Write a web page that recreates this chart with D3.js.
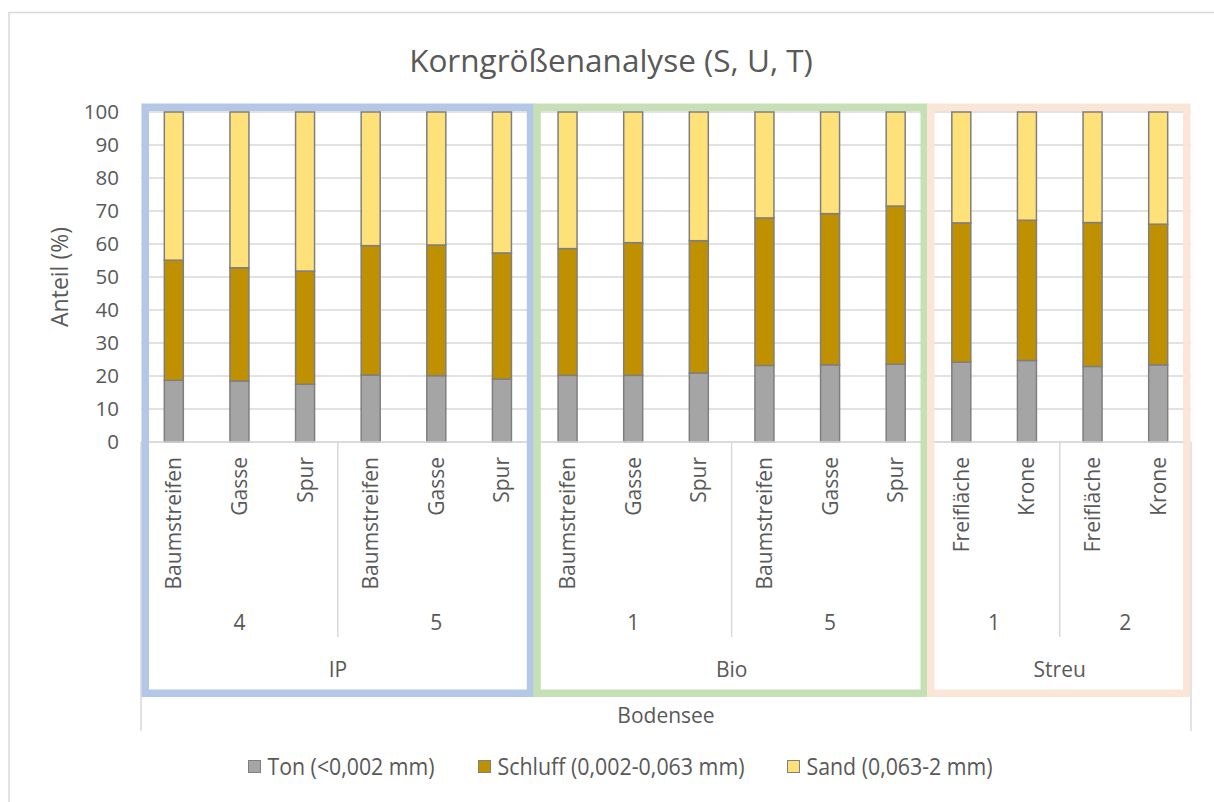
<!DOCTYPE html>
<html>
<head>
<meta charset="utf-8">
<script src="https://cdn.jsdelivr.net/npm/d3@7"></script>
<style>
  body { margin: 0; background: #fff; }
  text { font-family: "Open Sans", sans-serif; fill: #595959; }
</style>
</head>
<body>
<div id="chart"></div>
<script>
// data
var sites = ["Baumstreifen", "Gasse", "Spur", "Baumstreifen", "Gasse", "Spur",
             "Baumstreifen", "Gasse", "Spur", "Baumstreifen", "Gasse", "Spur",
             "Freifläche", "Krone", "Freifläche", "Krone"];
var plots = ["4", "4", "4", "5", "5", "5", "1", "1", "1", "5", "5", "5", "1", "1", "2", "2"];
var systems = ["IP", "IP", "IP", "IP", "IP", "IP", "Bio", "Bio", "Bio", "Bio", "Bio", "Bio",
               "Streu", "Streu", "Streu", "Streu"];
var region = "Bodensee";

var ton =     [18.7, 18.5, 17.5, 20.3, 20.1, 19.1, 20.2, 20.2, 20.9, 23.2, 23.4, 23.6, 24.2, 24.7, 22.9, 23.4];
var schluff = [36.4, 34.3, 34.3, 39.2, 39.6, 38.2, 38.4, 40.2, 40.1, 44.7, 45.8, 47.9, 42.2, 42.5, 43.6, 42.6];
var sand =    [44.9, 47.2, 48.2, 40.5, 40.3, 42.7, 41.4, 39.6, 39.0, 32.1, 30.8, 28.5, 33.6, 32.8, 33.5, 34.0];

var seriesNames = ["Ton (<0,002 mm)", "Schluff (0,002-0,063 mm)", "Sand (0,063-2 mm)"];
var seriesColors = ["#a5a5a5", "#bf9000", "#ffe17a"];
var yTicks = [0, 10, 20, 30, 40, 50, 60, 70, 80, 90, 100];
var boxColors = {"IP": "#b4c7e7", "Bio": "#c5e0b4", "Streu": "#fbe5d6"};

var width = 1214, height = 802;
var plot = {left: 141, right: 1191, top: 112, bottom: 442};
var fs = "21px";

var svg = d3.select("#chart").append("svg")
    .attr("width", width)
    .attr("height", height);

// chart frame
svg.append("rect")
    .attr("x", 9).attr("y", 12.5)
    .attr("width", width + 10).attr("height", height + 10)
    .attr("fill", "#fff")
    .attr("stroke", "#d9d9d9")
    .attr("stroke-width", 1.5);

var rows = sites.map(function(s, i) {
  return {idx: i, site: s, plot: plots[i], system: systems[i],
          ton: ton[i], schluff: schluff[i], sand: sand[i]};
});

var x = d3.scaleBand()
    .domain(d3.range(rows.length))
    .range([plot.left, plot.right])
    .padding(0);

var y = d3.scaleLinear()
    .domain([0, 100])
    .range([plot.bottom, plot.top]);

var barW = 19;

// gridlines
svg.append("g")
  .selectAll("line")
  .data(yTicks)
  .enter().append("line")
    .attr("x1", plot.left).attr("x2", plot.right)
    .attr("y1", function(d) { return y(d); })
    .attr("y2", function(d) { return y(d); })
    .attr("stroke", "#d9d9d9")
    .attr("stroke-width", 1.3);

// y axis labels
var yAxis = svg.append("g")
    .attr("transform", "translate(" + 126 + ",0)")
    .call(d3.axisLeft(y).tickValues(yTicks).tickSize(0).tickPadding(7));
yAxis.select(".domain").remove();
yAxis.selectAll("text")
    .style("font-family", "'Open Sans', sans-serif")
    .style("font-size", "20.5px")
    .attr("fill", "#595959");

svg.append("text")
    .attr("transform", "translate(68," + (plot.top + plot.bottom) / 2 + ") rotate(-90)")
    .attr("text-anchor", "middle")
    .style("font-size", "23px")
    .text("Anteil (%)");

// stacked bars
var keys = ["ton", "schluff", "sand"];
var stack = d3.stack().keys(keys)(rows);

svg.append("g").selectAll("g")
  .data(stack)
  .enter().append("g")
    .attr("fill", function(d, i) { return seriesColors[i]; })
  .selectAll("rect")
  .data(function(d) { return d; })
  .enter().append("rect")
    .attr("x", function(d) { return x(d.data.idx) + x.bandwidth() / 2 - barW / 2; })
    .attr("y", function(d) { return y(d[1]); })
    .attr("width", barW)
    .attr("height", function(d) { return y(d[0]) - y(d[1]); })
    .attr("stroke", "#7f7f7f")
    .attr("stroke-width", 1.5);

// category axis line
svg.append("line")
    .attr("x1", plot.left).attr("x2", plot.right)
    .attr("y1", plot.bottom).attr("y2", plot.bottom)
    .attr("stroke", "#d9d9d9")
    .attr("stroke-width", 1.5);

// level 1: rotated site labels
svg.append("g").selectAll("text")
  .data(rows)
  .enter().append("text")
    .attr("transform", function(d) {
      return "translate(" + (x(d.idx) + x.bandwidth() / 2 + 7.5) + "," + 457 + ") rotate(-90)";
    })
    .attr("text-anchor", "end")
    .style("font-size", fs)
    .text(function(d) { return d.site; });

// runs of equal labels for higher levels
function runs(keyFn) {
  var out = [];
  rows.forEach(function(r) {
    var k = keyFn(r);
    var last = out[out.length - 1];
    if (last && last.key === k) last.end = r.idx;
    else out.push({key: k, start: r.idx, end: r.idx, label: k.split("|").pop()});
  });
  return out;
}
function x0(g) { return x(g.start); }
function x1(g) { return x(g.end) + x.bandwidth(); }

var plotRuns = runs(function(r) { return r.system + "|" + r.plot; });
var systemRuns = runs(function(r) { return r.system; });

// separators
var sep = svg.append("g").attr("stroke", "#d9d9d9").attr("stroke-width", 1.5);
plotRuns.forEach(function(g) {
  if (g.start > 0 && systems[g.start - 1] === systems[g.start]) {
    sep.append("line").attr("x1", x0(g)).attr("x2", x0(g))
        .attr("y1", plot.bottom).attr("y2", 637);
  }
});
systemRuns.forEach(function(g) {
  if (g.start > 0) {
    sep.append("line").attr("x1", x0(g)).attr("x2", x0(g))
        .attr("y1", plot.bottom).attr("y2", 685);
  }
});
[plot.left, plot.right].forEach(function(px) {
  sep.append("line").attr("x1", px).attr("x2", px)
      .attr("y1", plot.bottom).attr("y2", 731);
});

// level 2: plot numbers
svg.append("g").selectAll("text")
  .data(plotRuns)
  .enter().append("text")
    .attr("x", function(d) { return (x0(d) + x1(d)) / 2; })
    .attr("y", 630)
    .attr("text-anchor", "middle")
    .style("font-size", fs)
    .text(function(d) { return d.label; });

// level 3: systems
svg.append("g").selectAll("text")
  .data(systemRuns)
  .enter().append("text")
    .attr("x", function(d) { return (x0(d) + x1(d)) / 2; })
    .attr("y", 677)
    .attr("text-anchor", "middle")
    .style("font-size", fs)
    .text(function(d) { return d.label; });

// level 4: region
svg.append("text")
    .attr("x", (plot.left + plot.right) / 2)
    .attr("y", 723)
    .attr("text-anchor", "middle")
    .style("font-size", fs)
    .text(region);

// coloured frames around the systems
var bw = 7.5;
svg.append("g").selectAll("rect")
  .data(systemRuns)
  .enter().append("rect")
    .attr("x", function(d, i) { return (i === 0 ? x0(d) + 0.5 : x0(d) - 1.5) + bw / 2; })
    .attr("y", 103.5 + bw / 2)
    .attr("width", function(d, i) {
      var w = x1(d) - x0(d) - bw;
      return i === 0 ? w - 1 : w + 1;
    })
    .attr("height", 697 - 103.5 - bw)
    .attr("fill", "none")
    .attr("stroke", function(d) { return boxColors[d.label]; })
    .attr("stroke-width", bw);

// title
svg.append("text")
    .attr("x", 611)
    .attr("y", 72)
    .attr("text-anchor", "middle")
    .style("font-size", "31.5px")
    .text("Korngrößenanalyse (S, U, T)");

// legend
var legendX = [248.5, 478.5, 787.5];
var legendW = [167, 247, 186];
var legend = svg.append("g").selectAll("g")
  .data(seriesNames)
  .enter().append("g")
    .attr("transform", function(d, i) { return "translate(" + legendX[i] + "," + 767 + ")"; });
legend.append("rect")
    .attr("x", 0).attr("y", -6.5)
    .attr("width", 12).attr("height", 12)
    .attr("fill", function(d, i) { return seriesColors[i]; })
    .attr("stroke", "#7f7f7f")
    .attr("stroke-width", 1);
legend.append("text")
    .attr("x", 19)
    .attr("y", 8)
    .attr("textLength", function(d, i) { return legendW[i]; })
    .attr("lengthAdjust", "spacingAndGlyphs")
    .style("font-size", "23px")
    .text(function(d) { return d; });
</script>
</body>
</html>
